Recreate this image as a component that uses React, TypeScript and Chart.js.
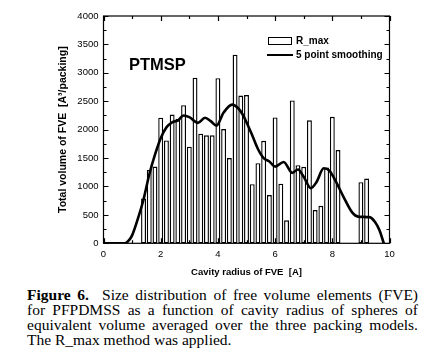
import React, { useEffect, useRef } from 'react';
import { Chart, registerables } from 'chart.js';

Chart.register(...registerables);

// ---- data ----
const barRadius = [1.4, 1.6, 1.8, 2.0, 2.2, 2.4, 2.6, 2.8, 3.0, 3.2, 3.4, 3.6, 3.8, 4.0, 4.2, 4.4, 4.6, 4.8, 5.0, 5.2, 5.4, 5.6, 5.8, 6.0, 6.2, 6.4, 6.6, 6.8, 7.0, 7.2, 7.4, 7.6, 7.8, 8.0, 8.2, 9.0, 9.2];
const barVolume = [790, 1290, 1350, 2210, 1810, 2265, 2190, 2430, 1700, 2915, 1930, 1900, 1900, 2905, 2010, 1500, 3320, 2600, 2610, 1040, 1410, 1805, 850, 2215, 1050, 405, 2515, 1375, 1345, 2165, 585, 660, 1335, 2225, 1640, 1075, 1140];

const curveRadius = [0, 0.4, 0.75, 0.9, 1.0, 1.2, 1.4, 1.6, 1.8, 2.0, 2.2, 2.4, 2.6, 2.8, 3.0, 3.3, 3.55, 3.75, 3.95, 4.2, 4.5, 4.7, 4.85, 5.0, 5.2, 5.4, 5.6, 5.8, 6.0, 6.3, 6.6, 6.8, 7.0, 7.25, 7.45, 7.7, 7.9, 8.1, 8.4, 8.7, 8.9, 9.3, 9.5, 9.65, 9.8];
const curveVolume = [0, 0, 0, 60, 140, 430, 770, 1210, 1560, 1850, 2040, 2130, 2160, 2250, 2220, 2120, 2210, 2150, 2070, 2300, 2440, 2380, 2280, 2130, 1900, 1660, 1500, 1440, 1350, 1430, 1240, 1300, 1170, 970, 1080, 1320, 1280, 1110, 810, 540, 470, 460, 370, 230, 0];

const xTickValues = [0, 2, 4, 6, 8, 10];
const yTickValues = [0, 500, 1000, 1500, 2000, 2500, 3000, 3500, 4000];
const seriesLabels = ['R_max', '5 point smoothing'];
const panelLabel = 'PTMSP';
const xTitle = 'Cavity radius of FVE  [A]';
const yTitle = 'Total volume of FVE  [A\u00B3/packing]';
const captionBold = 'Figure 6.';
const captionLines = [
  'Size distribution of free volume elements (FVE)',
  'for PFPDMSS as a function of cavity radius of spheres of',
  'equivalent volume averaged over the three packing models.',
  'The R_max method was applied.',
];

const SANS = '"Liberation Sans", Arial, sans-serif';

const framePlugin = {
  id: 'frame',
  afterDatasetsDraw(chart: any) {
    const { ctx, chartArea, scales } = chart;
    const { left, right, top, bottom } = chartArea;
    const x = scales.x;
    const y = scales.y;
    ctx.save();
    ctx.strokeStyle = '#000';
    ctx.lineWidth = 1.2;
    ctx.strokeRect(left, top, right - left, bottom - top);
    ctx.beginPath();
    const xMin = xTickValues[0];
    const xMax = xTickValues[xTickValues.length - 1];
    const xStep = (xTickValues[1] - xTickValues[0]) / 2;
    for (let v = xMin; v <= xMax + 1e-9; v += xStep) {
      const px = Math.round(x.getPixelForValue(v)) + 0.5;
      const major = xTickValues.some((t) => Math.abs(t - v) < 1e-6);
      const len = major ? 5 : 3;
      ctx.moveTo(px, bottom);
      ctx.lineTo(px, bottom - len);
      ctx.moveTo(px, top);
      ctx.lineTo(px, top + len);
    }
    const yMin = yTickValues[0];
    const yMax = yTickValues[yTickValues.length - 1];
    const yStep = (yTickValues[1] - yTickValues[0]) / 2;
    for (let v = yMin; v <= yMax + 1e-9; v += yStep) {
      const py = Math.round(y.getPixelForValue(v)) + 0.5;
      const major = yTickValues.some((t) => Math.abs(t - v) < 1e-6);
      const len = major ? 5 : 3;
      ctx.moveTo(left, py);
      ctx.lineTo(left + len, py);
      ctx.moveTo(right, py);
      ctx.lineTo(right - len, py);
    }
    ctx.stroke();
    ctx.restore();
  },
};

export default function App() {
  const canvasRef = useRef<HTMLCanvasElement | null>(null);

  useEffect(() => {
    const canvas = canvasRef.current;
    if (!canvas) return;
    const chart = new Chart(canvas, {
      type: 'bar',
      data: {
        datasets: [
          {
            type: 'line',
            label: seriesLabels[1],
            data: curveRadius.map((r, i) => ({ x: r, y: curveVolume[i] })),
            borderColor: '#000',
            borderWidth: 2.6,
            pointRadius: 0,
            fill: false,
            cubicInterpolationMode: 'monotone',
            order: 0,
          } as any,
          {
            type: 'bar',
            label: seriesLabels[0],
            data: barRadius.map((r, i) => ({ x: r, y: barVolume[i] })),
            backgroundColor: '#fff',
            borderColor: '#000',
            borderWidth: 1.4,
            borderSkipped: false,
            categoryPercentage: 1,
            barPercentage: 0.86,
            order: 1,
          } as any,
        ],
      },
      options: {
        responsive: false,
        animation: false,
        devicePixelRatio: 1,
        layout: { padding: { top: 16, right: 44.5, left: 0, bottom: 0 } },
        plugins: {
          legend: { display: false },
          tooltip: { enabled: false },
        },
        scales: {
          x: {
            type: 'linear',
            offset: false,
            min: 0,
            max: 10,
            grid: { display: false, drawTicks: false, offset: false },
            border: { display: false },
            ticks: {
              stepSize: 2,
              padding: 5,
              color: '#000',
              font: { family: SANS, size: 9.5 },
              maxRotation: 0,
              callback: (v: any) => String(v),
            },
            title: {
              display: true,
              text: xTitle,
              color: '#000',
              font: { family: SANS, size: 9.5, weight: 'bold' },
              padding: { top: 0, bottom: 7 },
            },
            afterFit: (s: any) => {
              s.height = 285 - 243.3;
            },
          },
          y: {
            type: 'linear',
            min: 0,
            max: 4000,
            grid: { display: false, drawTicks: false },
            border: { display: false },
            ticks: {
              stepSize: 500,
              padding: 5,
              color: '#000',
              font: { family: SANS, size: 9.5 },
              callback: (v: any) => String(v),
            },
            title: {
              display: true,
              text: yTitle,
              color: '#000',
              font: { family: SANS, size: 10.5, weight: 'bold' },
              padding: { top: 57, bottom: 0 },
            },
            afterFit: (s: any) => {
              s.width = 103.5;
            },
          },
        },
      } as any,
      plugins: [framePlugin],
    });
    return () => chart.destroy();
  }, []);

  const lineStyle = (last: boolean): React.CSSProperties => ({
    textAlign: 'justify',
    textAlignLast: last ? 'left' : 'justify',
    whiteSpace: 'nowrap',
    height: 15,
  });

  return (
    <div style={{ position: 'absolute', left: 0, top: 0, width: 434, height: 357, background: '#fff', overflow: 'hidden' }}>
      <canvas ref={canvasRef} width={434} height={285} style={{ position: 'absolute', left: 0, top: 0, width: 434, height: 285 }} />
      <div style={{ position: 'absolute', left: 129, top: 54, font: `bold 16.5px ${SANS}`, color: '#000', lineHeight: '20px', whiteSpace: 'nowrap' }}>
        {panelLabel}
      </div>
      <div style={{ position: 'absolute', left: 268, top: 37, width: 24, height: 8, border: '1.4px solid #000', boxSizing: 'border-box', background: '#fff' }} />
      <div style={{ position: 'absolute', left: 296, top: 34, font: `bold 10px ${SANS}`, lineHeight: '14px', color: '#000', whiteSpace: 'nowrap' }}>
        {seriesLabels[0]}
      </div>
      <div style={{ position: 'absolute', left: 267, top: 53.5, width: 26, height: 2.6, background: '#000' }} />
      <div style={{ position: 'absolute', left: 296, top: 48, font: `bold 10px ${SANS}`, lineHeight: '14px', color: '#000', whiteSpace: 'nowrap' }}>
        {seriesLabels[1]}
      </div>
      <div
        style={{
          position: 'absolute',
          left: 27,
          top: 287,
          width: 391,
          font: `15.5px "Liberation Serif", "Times New Roman", serif`,
          lineHeight: '15px',
          color: '#000',
        }}
      >
        <div style={lineStyle(false)}>
          <b>{captionBold}</b>&nbsp; {captionLines[0]}
        </div>
        <div style={lineStyle(false)}>{captionLines[1]}</div>
        <div style={lineStyle(false)}>{captionLines[2]}</div>
        <div style={lineStyle(true)}>{captionLines[3]}</div>
      </div>
    </div>
  );
}
